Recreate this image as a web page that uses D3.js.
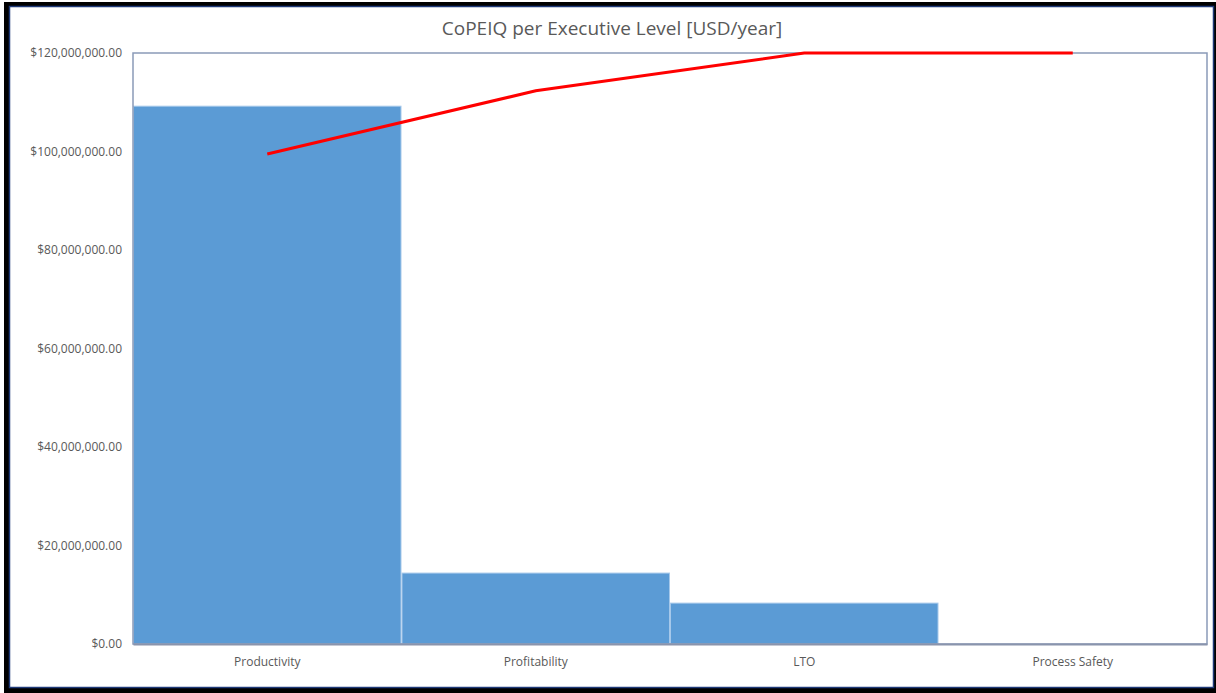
<!DOCTYPE html>
<html>
<head>
<meta charset="utf-8">
<script src="https://cdn.jsdelivr.net/npm/d3@7/dist/d3.min.js"></script>
<style>
  html, body { margin: 0; padding: 0; background: #fff; }
  #chart { width: 1216px; height: 693px; }
  text { font-family: "Open Sans", "Liberation Sans", Arial, sans-serif; fill: #595959; }
</style>
</head>
<body>
<div id="chart"></div>
<script>
(function () {
    // Data
    var categories = ['Productivity', 'Profitability', 'LTO', 'Process Safety'];
    var costValues = [109200000, 14400000, 8300000, 0];        // USD/year (bars)
    var cumulativePct = [82.9, 93.6, 100, 100];                 // Pareto line, %
    var yTicks = [0, 20000000, 40000000, 60000000, 80000000, 100000000, 120000000];
    var chartTitle = 'CoPEIQ per Executive Level [USD/year]';

    var W = 1216, H = 693;
    var margin = { top: 53, right: 9, bottom: 49, left: 133 };
    var width = W - margin.left - margin.right;
    var height = H - margin.top - margin.bottom;

    var svg = d3.select('#chart')
        .append('svg')
        .attr('width', W)
        .attr('height', H);

    // Black frame + chart area
    svg.append('rect')
        .attr('x', 4).attr('y', 2)
        .attr('width', W - 4).attr('height', H - 2)
        .attr('fill', '#000');

    svg.append('rect')
        .attr('x', 9.5).attr('y', 6.5)
        .attr('width', 1204).attr('height', 681)
        .attr('fill', '#fff')
        .attr('stroke', '#1f3a78')
        .attr('stroke-width', 1.5);

    svg.append('text')
        .attr('x', 612)
        .attr('y', 35)
        .attr('text-anchor', 'middle')
        .style('font-size', '19px')
        .text(chartTitle);

    var g = svg.append('g')
        .attr('transform', 'translate(' + margin.left + ',' + margin.top + ')');

    var x = d3.scaleBand()
        .domain(categories)
        .range([0, width])
        .paddingInner(0)
        .paddingOuter(0);

    var y = d3.scaleLinear()
        .domain([0, 120000000])
        .range([height, 0]);

    var yPct = d3.scaleLinear()
        .domain([0, 100])
        .range([height, 0]);

    // Bars
    g.selectAll('.bar')
        .data(categories)
        .enter()
        .append('rect')
        .attr('class', 'bar')
        .attr('x', function (d) { return x(d) + 0.5; })
        .attr('y', function (d, i) { return y(costValues[i]); })
        .attr('width', x.bandwidth() - 1)
        .attr('height', function (d, i) { return height - y(costValues[i]); })
        .attr('fill', '#5b9bd5')
        .attr('stroke', function (d, i) { return costValues[i] > 0 ? '#a6c8ea' : 'none'; })
        .attr('stroke-width', 1);

    // Plot border
    g.append('rect')
        .attr('x', 0).attr('y', 0)
        .attr('width', width).attr('height', height)
        .attr('fill', 'none')
        .attr('stroke', '#8a9ab8')
        .attr('stroke-width', 1.5);

    // Y axis labels
    var yAxis = d3.axisLeft(y)
        .tickValues(yTicks)
        .tickSize(0)
        .tickPadding(11)
        .tickFormat(function (d) { return '$' + d3.format(',.2f')(d); });

    var yG = g.append('g').call(yAxis);
    yG.select('.domain').remove();
    yG.selectAll('text')
        .style('font-size', '12px')
        .style('fill', '#595959');

    // X axis
    var xAxis = d3.axisBottom(x).tickSize(0).tickPadding(13);
    var xG = g.append('g')
        .attr('transform', 'translate(0,' + height + ')')
        .call(xAxis);
    xG.select('.domain')
        .attr('stroke', '#8a94ac')
        .attr('stroke-width', 2);
    xG.selectAll('text')
        .style('font-size', '12px')
        .style('fill', '#595959');

    // Cumulative line
    var line = d3.line()
        .x(function (d, i) { return x(categories[i]) + x.bandwidth() / 2; })
        .y(function (d) { return yPct(d); });

    g.append('path')
        .datum(cumulativePct)
        .attr('fill', 'none')
        .attr('stroke', '#ff0000')
        .attr('stroke-width', 3)
        .attr('d', line);
})();
</script>
</body>
</html>
